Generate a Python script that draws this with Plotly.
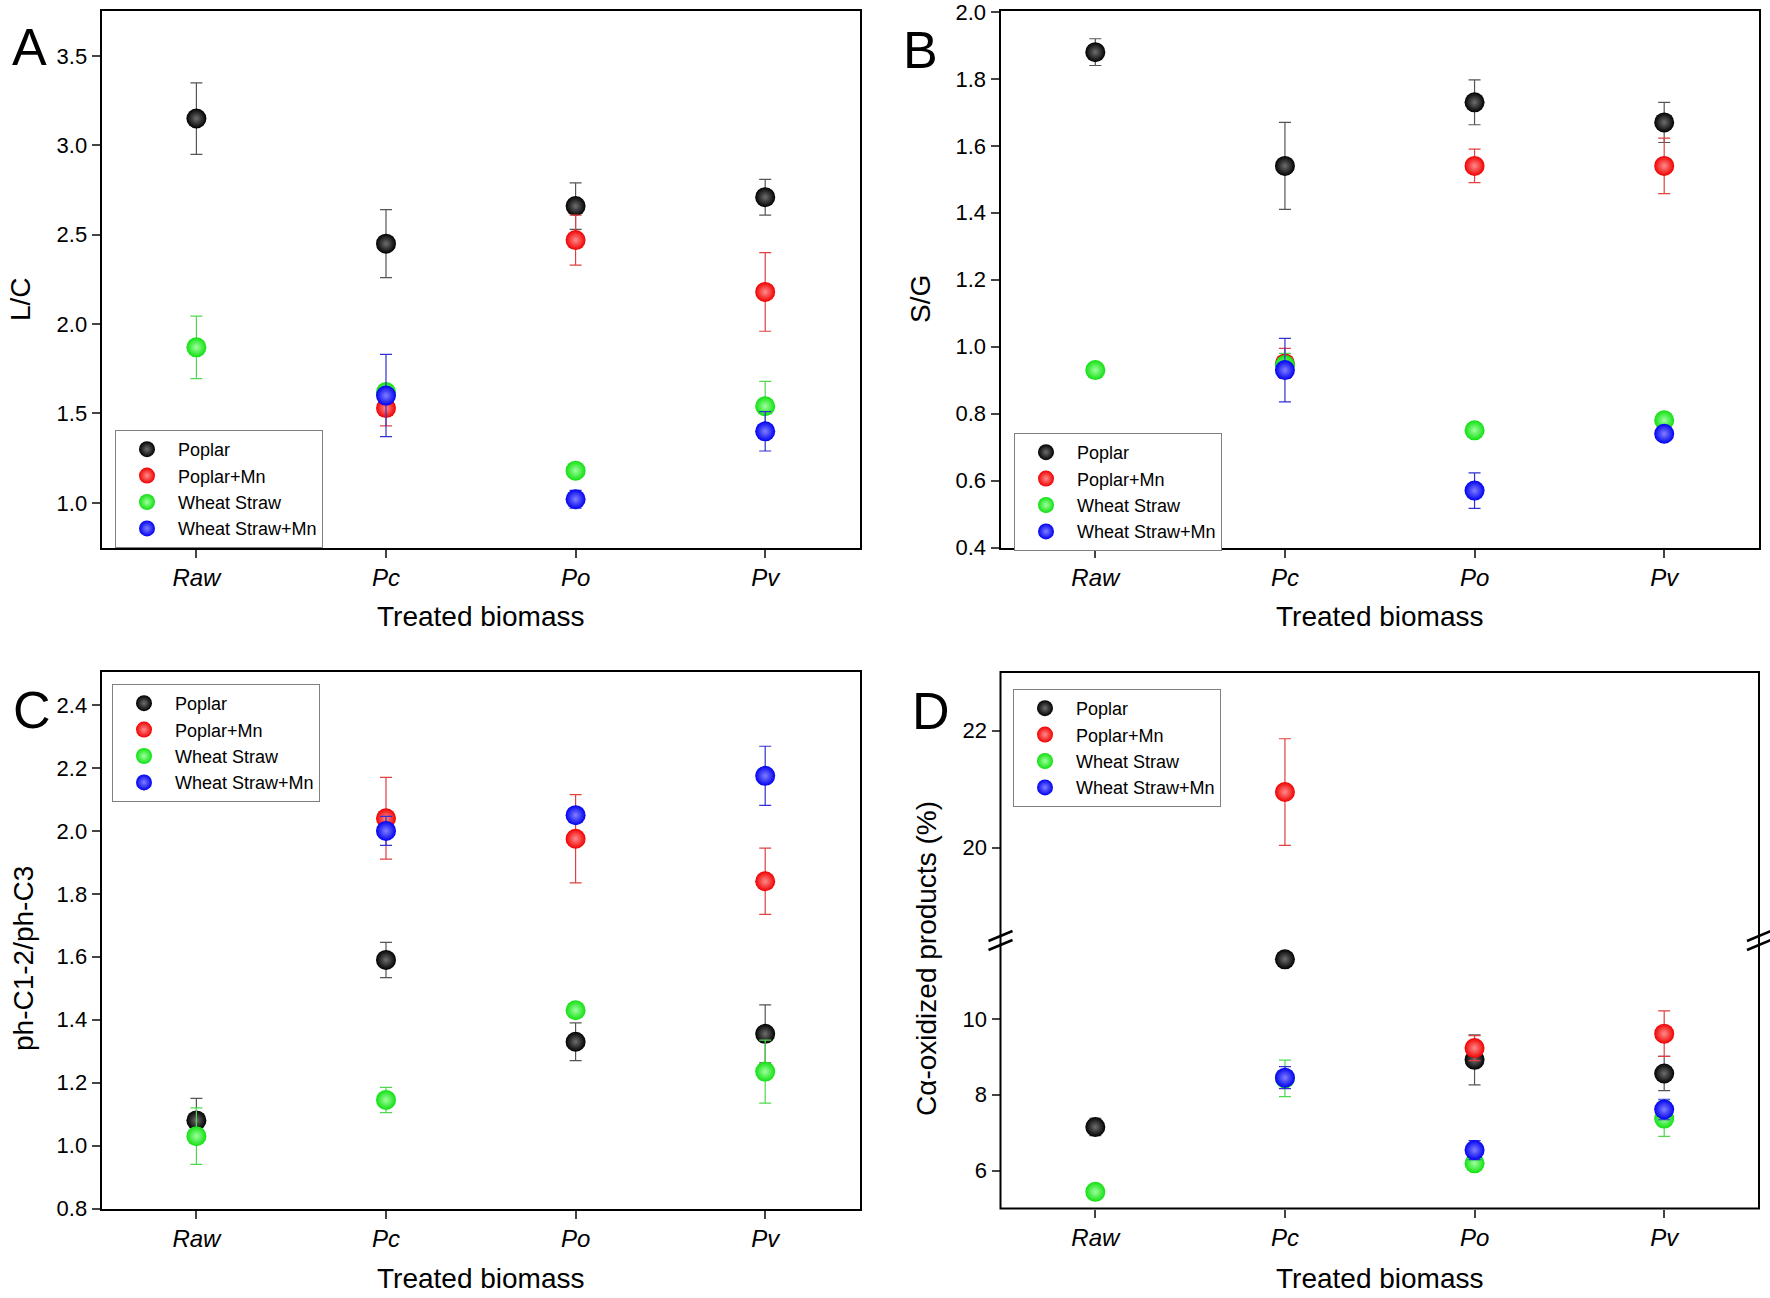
import plotly.graph_objects as go

# ── Data ────────────────────────────────────────────────────────────────────

categories = ["Raw", "Pc", "Po", "Pv"]
series_names = ["Poplar", "Poplar+Mn", "Wheat Straw", "Wheat Straw+Mn"]

# A: L/C
lc_poplar = [3.15, 2.45, 2.66, 2.71]
lc_poplar_err = [0.20, 0.19, 0.13, 0.10]
lc_poplar_mn = [None, 1.53, 2.47, 2.18]
lc_poplar_mn_err = [0, 0.10, 0.14, 0.22]
lc_wheat = [1.87, 1.62, 1.18, 1.54]
lc_wheat_err = [0.175, 0.04, 0.03, 0.14]
lc_wheat_mn = [None, 1.60, 1.02, 1.40]
lc_wheat_mn_err = [0, 0.23, 0.05, 0.11]

# B: S/G
sg_poplar = [1.88, 1.54, 1.73, 1.67]
sg_poplar_err = [0.04, 0.13, 0.067, 0.06]
sg_poplar_mn = [None, 0.95, 1.54, 1.54]
sg_poplar_mn_err = [0, 0.045, 0.05, 0.083]
sg_wheat = [0.93, 0.945, 0.75, 0.78]
sg_wheat_err = [0.01, 0.035, 0.01, 0.01]
sg_wheat_mn = [None, 0.93, 0.57, 0.74]
sg_wheat_mn_err = [0, 0.095, 0.053, 0.01]

# C: ph-C1-2/ph-C3
ph_poplar = [1.08, 1.59, 1.33, 1.355]
ph_poplar_err = [0.07, 0.056, 0.06, 0.092]
ph_poplar_mn = [None, 2.04, 1.975, 1.84]
ph_poplar_mn_err = [0, 0.13, 0.14, 0.105]
ph_wheat = [1.03, 1.145, 1.43, 1.235]
ph_wheat_err = [0.09, 0.04, 0.02, 0.10]
ph_wheat_mn = [None, 2.00, 2.05, 2.175]
ph_wheat_mn_err = [0, 0.046, 0.02, 0.094]

# D: C-alpha oxidized products (%)
ca_poplar = [7.15, 11.57, 8.92, 8.56]
ca_poplar_err = [0.23, 0.10, 0.66, 0.45]
ca_poplar_mn = [None, 20.95, 9.23, 9.61]
ca_poplar_mn_err = [0, 0.91, 0.33, 0.60]
ca_wheat = [5.44, 8.43, 6.19, 7.37]
ca_wheat_err = [0.10, 0.48, 0.08, 0.47]
ca_wheat_mn = [None, 8.45, 6.54, 7.61]
ca_wheat_mn_err = [0, 0.29, 0.25, 0.27]

# ── Styling ─────────────────────────────────────────────────────────────────

W, H = 1770, 1298
FONT = "Arial, Liberation Sans, sans-serif"

# marker colour, highlight colour, error bar colour
STYLE = {
    "Poplar": ("#000000", "#6e6e6e", "#555555"),
    "Poplar+Mn": ("#f00000", "#ff8c8c", "#e04040"),
    "Wheat Straw": ("#10e010", "#a0ffa0", "#50d850"),
    "Wheat Straw+Mn": ("#0000f0", "#8080ff", "#3030d0"),
}


def px(x):
    return x / W


def py(y):
    return 1 - y / H


# ── Chart builder ───────────────────────────────────────────────────────────

def add_panel(fig, values, errors, xaxis, yaxis, legend, showlegend=True):
    for name, ys, es in zip(series_names, values, errors):
        color, light, ecolor = STYLE[name]
        fig.add_trace(go.Scatter(
            x=categories, y=ys, name=name, mode="markers",
            xaxis=xaxis, yaxis=yaxis, legend=legend, showlegend=showlegend,
            marker=dict(size=20, color=color, line=dict(width=0),
                        gradient=dict(type="radial", color=light)),
            error_y=dict(type="data", array=es, visible=True,
                         color=ecolor, thickness=1.2, width=6),
        ))


def y_axis(domain, rng, anchor, dtick=None, fmt=".1f", tickvals=None):
    ax = dict(
        domain=domain, range=rng, anchor=anchor,
        tickformat=fmt, ticks="outside", ticklen=8, tickwidth=2,
        showgrid=False, zeroline=False, showline=True, mirror=True,
        linecolor="black", linewidth=2, ticklabeloverflow="allow",
        tickfont=dict(size=22, family=FONT, color="black"),
    )
    if tickvals is not None:
        ax.update(tickmode="array", tickvals=tickvals)
    else:
        ax.update(dtick=dtick, tick0=0)
    return ax


def x_axis(domain, anchor, mirror=True, showline=True):
    return dict(
        domain=domain, anchor=anchor, type="category",
        categoryorder="array", categoryarray=categories, range=[-0.5, 3.5],
        ticks="outside", ticklen=8, tickwidth=2, showgrid=False,
        zeroline=False, showline=showline, mirror=mirror,
        linecolor="black", linewidth=2,
        tickfont=dict(size=24, family=FONT, color="black", style="italic"),
    )


def legend_box(x, y):
    return dict(
        x=px(x), y=py(y), xanchor="left", yanchor="top",
        bordercolor="#808080", borderwidth=1, bgcolor="white",
        font=dict(size=18, family=FONT, color="black"),
        itemwidth=52, tracegroupgap=0,
    )


fig = go.Figure()

left_x = [px(101.6), px(860)]
right_x = [px(1000.5), px(1759)]
top_y = [py(547.5), py(11.3)]
bot_y = [py(1208.5), py(672)]
d_low = [py(1208.5), py(943)]
d_up = [py(939), py(672)]

add_panel(fig, [lc_poplar, lc_poplar_mn, lc_wheat, lc_wheat_mn],
          [lc_poplar_err, lc_poplar_mn_err, lc_wheat_err, lc_wheat_mn_err],
          "x", "y", "legend")
add_panel(fig, [sg_poplar, sg_poplar_mn, sg_wheat, sg_wheat_mn],
          [sg_poplar_err, sg_poplar_mn_err, sg_wheat_err, sg_wheat_mn_err],
          "x2", "y2", "legend2")
add_panel(fig, [ph_poplar, ph_poplar_mn, ph_wheat, ph_wheat_mn],
          [ph_poplar_err, ph_poplar_mn_err, ph_wheat_err, ph_wheat_mn_err],
          "x3", "y3", "legend3")
# broken axis: same data drawn on the lower and the upper segment
add_panel(fig, [ca_poplar, ca_poplar_mn, ca_wheat, ca_wheat_mn],
          [ca_poplar_err, ca_poplar_mn_err, ca_wheat_err, ca_wheat_mn_err],
          "x4", "y4", "legend4")
add_panel(fig, [ca_poplar, ca_poplar_mn, ca_wheat, ca_wheat_mn],
          [ca_poplar_err, ca_poplar_mn_err, ca_wheat_err, ca_wheat_mn_err],
          "x4", "y5", "legend4", showlegend=False)

y4 = y_axis(d_low, [5.0, 12.0], "x4", fmt="d", tickvals=[6, 8, 10])
y4.update(showline=False, mirror=False)
y5 = y_axis(d_up, [18.44, 23.0], "x4", fmt="d", tickvals=[20, 22])
y5.update(showline=False, mirror=False)

# frame of panel D + the break marks on both edges
shapes = [dict(type="rect", xref="paper", yref="paper",
               x0=right_x[0], x1=right_x[1], y0=bot_y[0], y1=bot_y[1],
               line=dict(color="black", width=2), layer="above")]
for ex in (1000.5, 1759):
    for yc in (936, 945):
        shapes.append(dict(type="line", xref="paper", yref="paper",
                           x0=px(ex - 12), y0=py(yc + 5),
                           x1=px(ex + 12), y1=py(yc - 5),
                           line=dict(color="black", width=2.5)))

annotations = []
for letter, x, y in (("A", 29, 47), ("B", 920, 50), ("C", 32, 710), ("D", 931, 711)):
    annotations.append(dict(text=letter, x=px(x), y=py(y), xref="paper", yref="paper",
                            showarrow=False, xanchor="center", yanchor="middle",
                            font=dict(size=52, family=FONT, color="black")))
for text, x, y in (("L/C", 20, 299), ("S/G", 920, 299),
                   ("ph-C1-2/ph-C3", 23, 959), ("Cα-oxidized products (%)", 926, 959)):
    annotations.append(dict(text=text, x=px(x), y=py(y), xref="paper", yref="paper",
                            showarrow=False, textangle=-90,
                            xanchor="center", yanchor="middle",
                            font=dict(size=28, family=FONT, color="black")))
for x, y in ((481, 616), (1380, 616), (481, 1278), (1380, 1278)):
    annotations.append(dict(text="Treated biomass", x=px(x), y=py(y),
                            xref="paper", yref="paper", showarrow=False,
                            xanchor="center", yanchor="middle",
                            font=dict(size=28, family=FONT, color="black")))

fig.update_layout(
    width=W, height=H,
    margin=dict(l=0, r=0, t=0, b=0, autoexpand=False),
    paper_bgcolor="white", plot_bgcolor="white",
    xaxis=x_axis(left_x, "y"),
    yaxis=y_axis(top_y, [0.75, 3.75], "x", dtick=0.5),
    xaxis2=x_axis(right_x, "y2"),
    yaxis2=y_axis(top_y, [0.4, 2.002], "x2", dtick=0.2),
    xaxis3=x_axis(left_x, "y3"),
    yaxis3=y_axis(bot_y, [0.8, 2.505], "x3", dtick=0.2),
    xaxis4=x_axis(right_x, "y4", mirror=False, showline=False),
    yaxis4=y4,
    yaxis5=y5,
    legend=legend_box(115, 430),
    legend2=legend_box(1014, 433),
    legend3=legend_box(112, 684),
    legend4=legend_box(1013, 689),
    shapes=shapes,
    annotations=annotations,
    showlegend=True,
)

# drop the browser's default body margin so the figure sits at the page corner
fig.write_html("out.html", config={"displayModeBar": False},
               post_script="document.body.style.margin = '0';")
